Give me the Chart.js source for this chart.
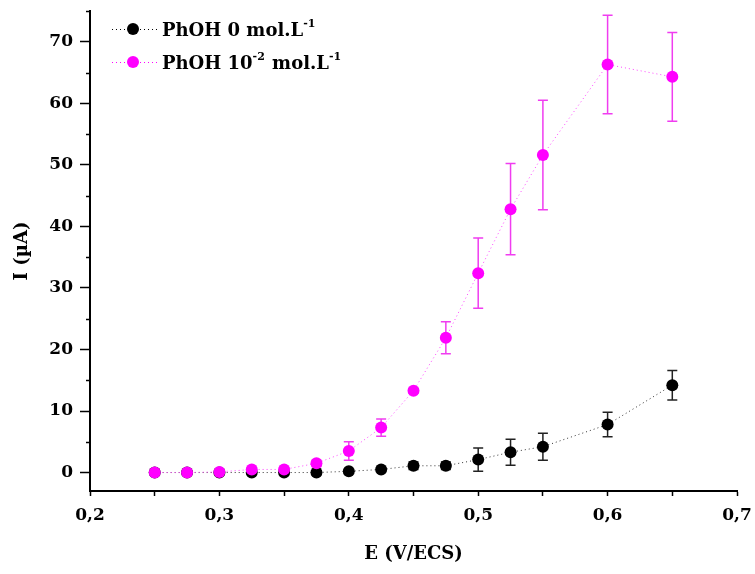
<!DOCTYPE html>
<html>
<head>
<meta charset="utf-8">
<title>I = f(E)</title>
<script src="https://cdn.jsdelivr.net/npm/chart.js@4.4.1/dist/chart.umd.min.js"></script>
<style>
    body { margin: 0; background: #fff; }
    canvas { display: block; }
</style>
</head>
<body>
<canvas id="chart" width="755" height="574"></canvas>
<script>
// Potentials (V/ECS) and measured currents (µA)
const potentials = [0.25, 0.275, 0.3, 0.325, 0.35, 0.375, 0.4, 0.425, 0.45, 0.475, 0.5, 0.525, 0.55, 0.6, 0.65];
const currentBlank = [0, 0, 0, 0, 0, 0, 0.2, 0.5, 1.1, 1.1, 2.1, 3.3, 4.2, 7.8, 14.2];
const errorBlank = [0.1, 0.1, 0.1, 0.2, 0.3, 0.3, 0.2, 0.3, 0.6, 0.6, 1.9, 2.1, 2.2, 2.0, 2.4];
const currentPhenol = [0, 0, 0.1, 0.5, 0.5, 1.5, 3.5, 7.3, 13.3, 21.9, 32.4, 42.8, 51.6, 66.3, 64.3];
const errorPhenol = [0.1, 0.1, 0.1, 0.2, 0.3, 0.5, 1.5, 1.4, 0.4, 2.6, 5.7, 7.4, 8.9, 8.0, 7.2];

// Axis ticks
const xTickValues = [0.2, 0.25, 0.3, 0.35, 0.4, 0.45, 0.5, 0.55, 0.6, 0.65, 0.7];
const yTickValues = [0, 10, 20, 30, 40, 50, 60, 70];
const yMinorTicks = [5, 15, 25, 35, 45, 55, 65, 75];

// Legend text, ^{...} marks superscript
const seriesLabels = ['PhOH 0 mol.L^{-1}', 'PhOH 10^{-2} mol.L^{-1}'];
const seriesColors = ['#000000', '#ff00ff'];

const FONT = '"DejaVu Serif", serif';

// Error bars drawn under the points, using the chart scales
const errorBarPlugin = {
    id: 'errorBars',
    beforeDatasetsDraw(chart) {
        const ctx = chart.ctx;
        const xs = chart.scales.x;
        const ys = chart.scales.y;
        chart.data.datasets.forEach((ds) => {
            const errs = ds.errorBars || [];
            ctx.save();
            ctx.strokeStyle = ds.errorColor;
            ctx.lineWidth = 1.5;
            ds.data.forEach((pt, j) => {
                const e = errs[j];
                if (!e) return;
                const x = xs.getPixelForValue(pt.x);
                const top = ys.getPixelForValue(pt.y + e);
                const bot = ys.getPixelForValue(pt.y - e);
                ctx.beginPath();
                ctx.moveTo(x, top); ctx.lineTo(x, bot);
                ctx.moveTo(x - 5, top); ctx.lineTo(x + 5, top);
                ctx.moveTo(x - 5, bot); ctx.lineTo(x + 5, bot);
                ctx.stroke();
            });
            ctx.restore();
        });
    }
};

// Short minor ticks on the y axis
const minorTickPlugin = {
    id: 'minorTicks',
    afterDraw(chart) {
        const ctx = chart.ctx;
        const ys = chart.scales.y;
        const x0 = chart.chartArea.left;
        ctx.save();
        ctx.strokeStyle = '#000';
        ctx.lineWidth = 1.5;
        yMinorTicks.forEach(v => {
            const y = Math.round(ys.getPixelForValue(v)) + 0.5;
            ctx.beginPath();
            ctx.moveTo(x0, y);
            ctx.lineTo(x0 - 4, y);
            ctx.stroke();
        });
        ctx.restore();
    }
};

// Legend with dotted line + marker and superscript text
const legendPlugin = {
    id: 'customLegend',
    afterDraw(chart) {
        const ctx = chart.ctx;
        const rows = [29, 62];
        ctx.save();
        seriesLabels.forEach((label, i) => {
            const y = rows[i];
            const color = seriesColors[i];
            ctx.strokeStyle = color;
            ctx.lineWidth = 1;
            ctx.setLineDash([1, 3]);
            ctx.beginPath();
            ctx.moveTo(112, y + 0.5);
            ctx.lineTo(160, y + 0.5);
            ctx.stroke();
            ctx.setLineDash([]);
            ctx.fillStyle = color;
            ctx.beginPath();
            ctx.arc(133, y, 6, 0, Math.PI * 2);
            ctx.fill();

            // text pieces
            ctx.fillStyle = '#000';
            ctx.textBaseline = 'alphabetic';
            let x = 162;
            const parts = label.split(/(\^\{[^}]*\})/);
            parts.forEach(p => {
                if (!p) return;
                if (p.startsWith('^{')) {
                    const s = p.slice(2, -1);
                    ctx.font = 'bold 11px ' + FONT;
                    ctx.fillText(s, x, y - 2);
                    x += ctx.measureText(s).width + 1;
                } else {
                    ctx.font = 'bold 18px ' + FONT;
                    ctx.fillText(p, x, y + 7);
                    x += ctx.measureText(p).width;
                }
            });
        });
        ctx.restore();
    }
};

const toPoints = (ys) => potentials.map((x, i) => ({ x: x, y: ys[i] }));

new Chart(document.getElementById('chart'), {
    type: 'scatter',
    data: {
        datasets: [
            {
                label: 'PhOH 0 mol.L-1',
                data: toPoints(currentBlank),
                errorBars: errorBlank,
                errorColor: '#222222',
                showLine: true,
                borderColor: '#333333',
                borderWidth: 1,
                borderDash: [1, 3],
                backgroundColor: '#000000',
                pointRadius: 6,
                pointBorderWidth: 0,
                order: 1
            },
            {
                label: 'PhOH 10-2 mol.L-1',
                data: toPoints(currentPhenol),
                errorBars: errorPhenol,
                errorColor: '#f03cf0',
                showLine: true,
                borderColor: '#ff44ff',
                borderWidth: 1,
                borderDash: [1, 3],
                backgroundColor: '#ff00ff',
                pointRadius: 6,
                pointBorderWidth: 0,
                order: 0
            }
        ]
    },
    options: {
        responsive: false,
        devicePixelRatio: 1,
        animation: false,
        layout: { padding: { top: 11, right: 18, left: 0, bottom: 0 } },
        plugins: {
            legend: { display: false },
            tooltip: { enabled: false }
        },
        scales: {
            x: {
                type: 'linear',
                min: 0.2,
                max: 0.7,
                afterBuildTicks: (scale) => { scale.ticks = xTickValues.map(v => ({ value: v })); },
                afterFit: (scale) => {
                    scale.height = 83;
                    scale.paddingLeft = 0;
                    scale.paddingRight = 0;
                },
                border: { display: true, color: '#000', width: 2 },
                grid: { drawOnChartArea: false, drawTicks: true, tickLength: 5, tickColor: '#000', tickWidth: 1.5 },
                ticks: {
                    autoSkip: false,
                    maxRotation: 0,
                    padding: 9,
                    color: '#000',
                    font: { family: FONT, size: 17, weight: 'bold' },
                    callback: (v) => (Math.round(v * 100) % 10 === 0 ? v.toFixed(1).replace('.', ',') : '')
                },
                title: {
                    display: true,
                    text: 'E (V/ECS)',
                    color: '#000',
                    font: { family: FONT, size: 18, weight: 'bold' },
                    padding: { top: 0, bottom: 9 }
                }
            },
            y: {
                type: 'linear',
                min: -3,
                max: 75,
                afterBuildTicks: (scale) => { scale.ticks = yTickValues.map(v => ({ value: v })); },
                afterFit: (scale) => {
                    scale.width = 90;
                    scale.paddingTop = 0;
                    scale.paddingBottom = 0;
                },
                border: { display: true, color: '#000', width: 2 },
                grid: { drawOnChartArea: false, drawTicks: true, tickLength: 10, tickColor: '#000', tickWidth: 1.5 },
                ticks: {
                    padding: 7,
                    color: '#000',
                    font: { family: FONT, size: 17, weight: 'bold' }
                },
                title: {
                    display: true,
                    text: 'I (µA)',
                    color: '#000',
                    font: { family: FONT, size: 18, weight: 'bold' },
                    padding: { top: 12, bottom: 0 }
                }
            }
        }
    },
    plugins: [errorBarPlugin, minorTickPlugin, legendPlugin]
});
</script>
</body>
</html>
